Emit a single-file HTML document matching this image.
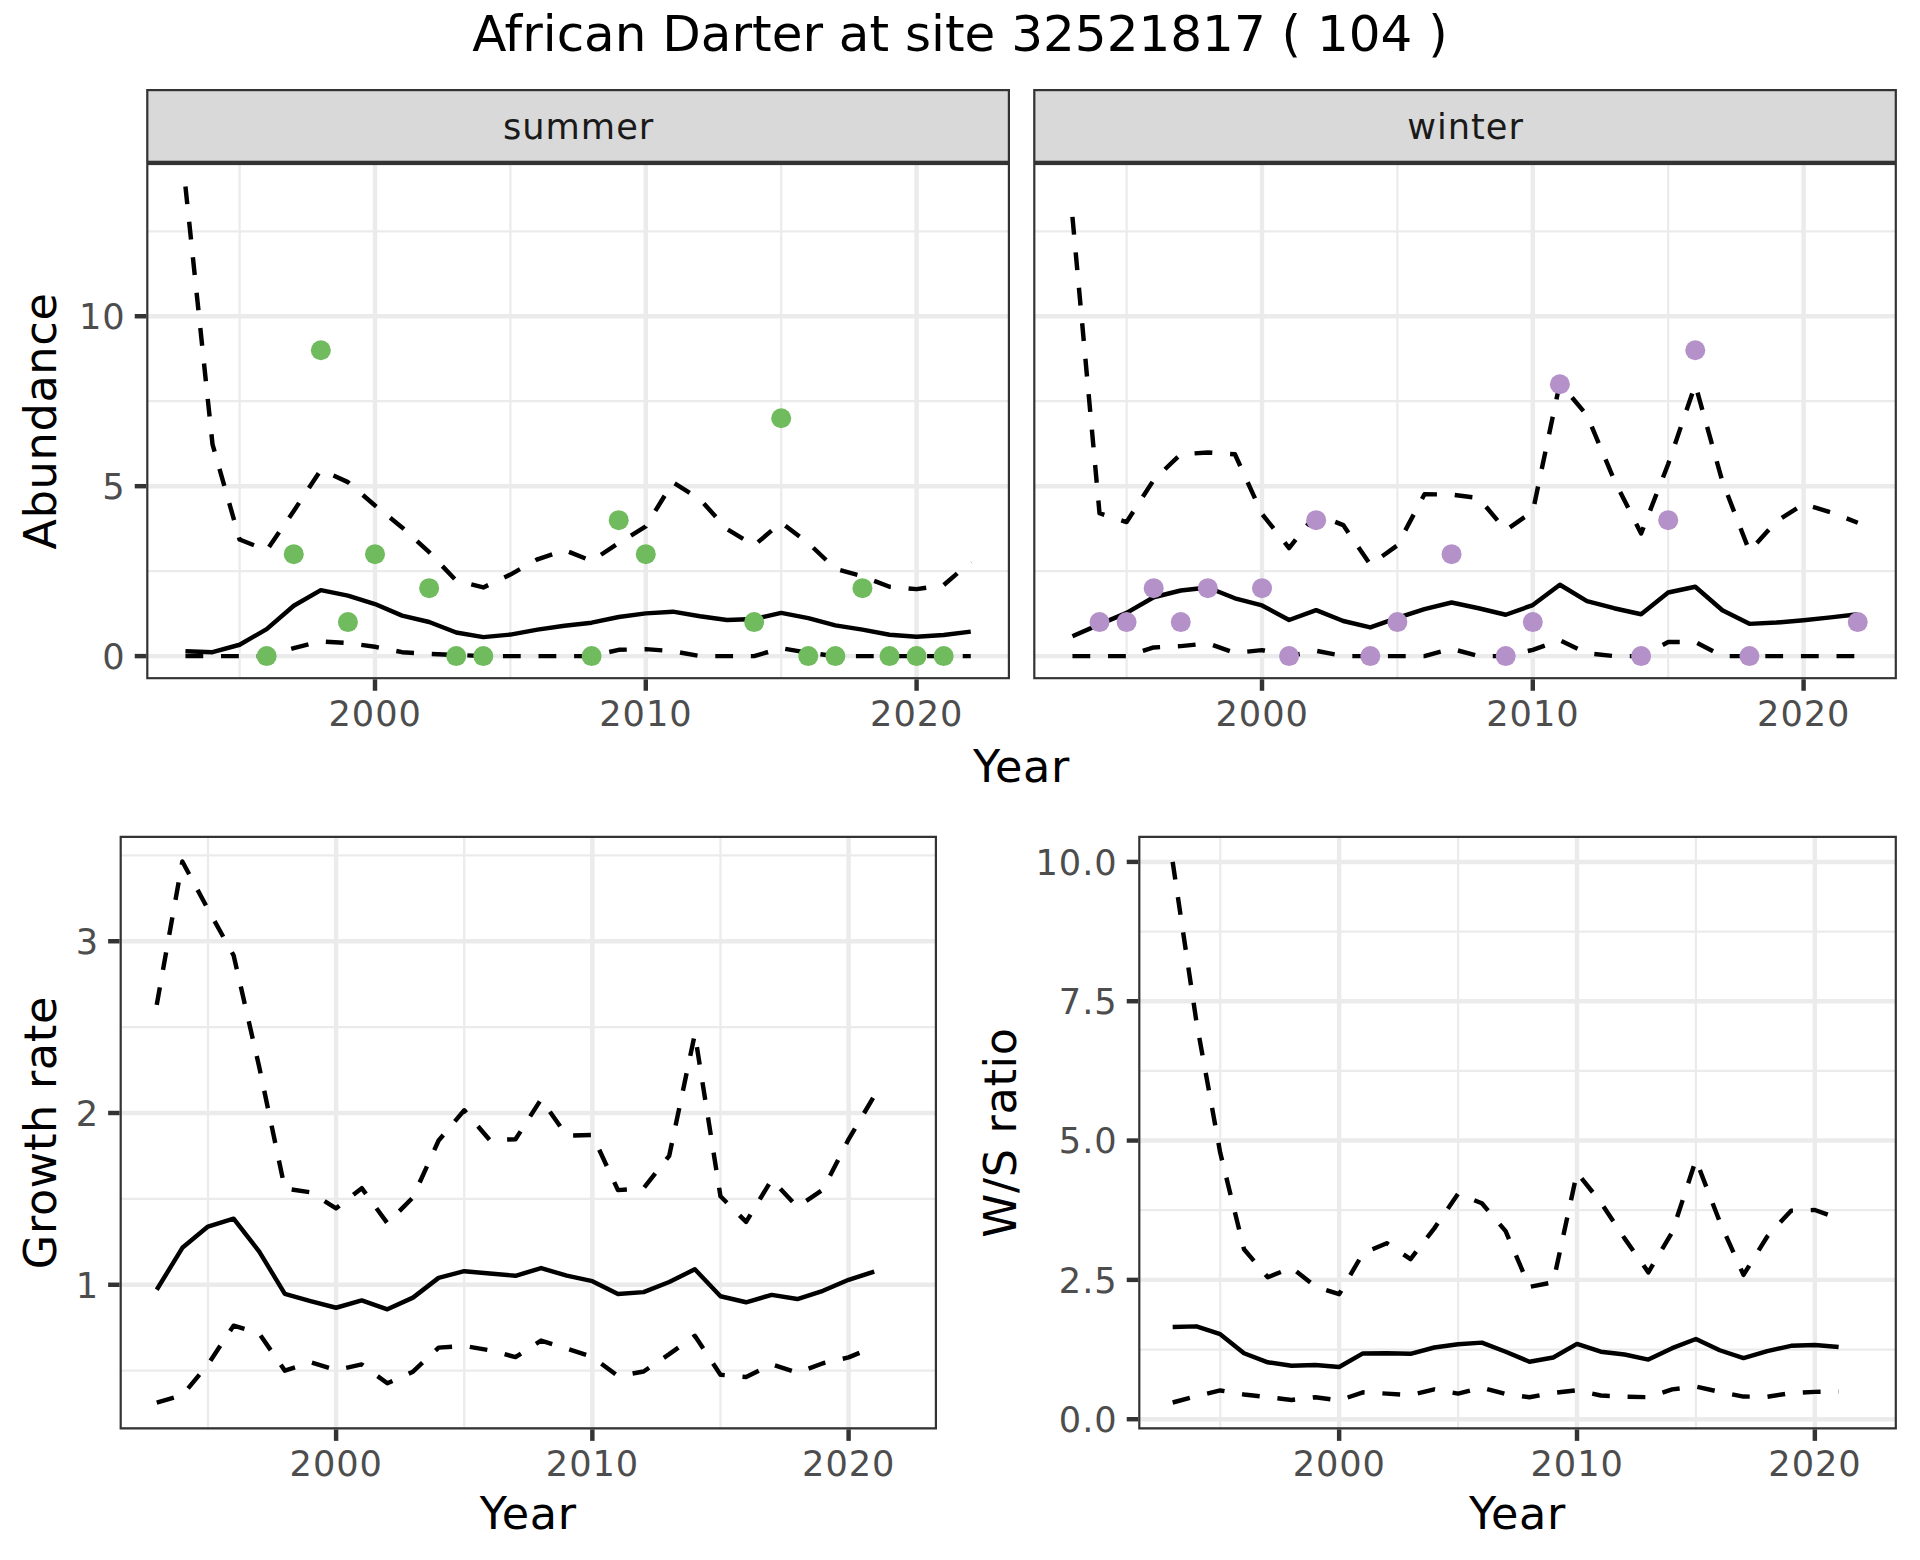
<!DOCTYPE html>
<html lang="en"><head><meta charset="utf-8"><title>African Darter at site 32521817 ( 104 )</title>
<style>html,body{margin:0;padding:0;background:#fff}body{width:1920px;height:1560px;overflow:hidden}svg{display:block}
text{font-family:"DejaVu Sans","Liberation Sans",sans-serif}.ax{font-size:35.2px;letter-spacing:.93px;fill:#4D4D4D}.st{font-size:35.2px;letter-spacing:1.0px;fill:#1A1A1A}.ti{font-size:44.55px;letter-spacing:.68px;fill:#000}.mt{font-size:50px;fill:#000}
</style></head><body>
<svg width="1920" height="1560" viewBox="0 0 1920 1560">
<rect width="1920" height="1560" fill="#fff"/>
<text class="mt" text-anchor="middle" x="960" y="51">African Darter at site 32521817 ( 104 )</text>
<clipPath id="s8"><rect x="146.20" y="89.00" width="863.80" height="73.90"/></clipPath>
<rect x="146.20" y="89.00" width="863.80" height="73.90" fill="#D9D9D9" stroke="#333" stroke-width="4.40" clip-path="url(#s8)"/>
<text class="st" text-anchor="middle" x="578.60" y="139">summer</text>
<clipPath id="c11"><rect x="146.20" y="162.90" width="863.80" height="516.40"/></clipPath>
<g clip-path="url(#c11)">
<rect x="146.20" y="162.90" width="863.80" height="516.40" fill="#fff"/>
<g stroke="#EBEBEB" stroke-width="2.23">
<line x1="146.2" x2="1010.0" y1="571.14" y2="571.14"/>
<line x1="146.2" x2="1010.0" y1="401.21" y2="401.21"/>
<line x1="146.2" x2="1010.0" y1="231.29" y2="231.29"/>
<line y1="162.9" y2="679.3" x1="239.60" x2="239.60"/>
<line y1="162.9" y2="679.3" x1="510.40" x2="510.40"/>
<line y1="162.9" y2="679.3" x1="781.20" x2="781.20"/>
</g>
<g stroke="#EBEBEB" stroke-width="4.45">
<line x1="146.2" x2="1010.0" y1="656.10" y2="656.10"/>
<line x1="146.2" x2="1010.0" y1="486.18" y2="486.18"/>
<line x1="146.2" x2="1010.0" y1="316.25" y2="316.25"/>
<line y1="162.9" y2="679.3" x1="375.00" x2="375.00"/>
<line y1="162.9" y2="679.3" x1="645.80" x2="645.80"/>
<line y1="162.9" y2="679.3" x1="916.60" x2="916.60"/>
</g>
<polyline points="185.44,651.17 212.52,652.19 239.60,644.75 266.68,629.15 293.76,605.77 320.84,590.17 347.92,595.57 375.00,604.07 402.08,615.59 429.16,622.01 456.24,632.55 483.32,637.10 510.40,634.59 537.48,629.66 564.56,625.75 591.64,622.69 618.72,616.95 645.80,613.38 672.88,611.68 699.96,616.27 727.04,620.01 754.12,618.99 781.20,612.87 808.28,618.14 835.36,625.41 862.44,629.66 889.52,634.69 916.60,636.66 943.68,635.00 970.76,631.66" fill="none" stroke="#000" stroke-width="4.45" stroke-linejoin="round" stroke-linecap="butt"/>
<polyline points="185.44,656.10 212.52,656.10 239.60,656.10 266.68,656.10 293.76,648.15 320.84,641.35 347.92,643.05 375.00,646.79 402.08,652.19 429.16,653.89 456.24,654.91 483.32,656.10 510.40,656.10 537.48,656.10 564.56,656.10 591.64,656.10 618.72,649.81 645.80,649.13 672.88,651.17 699.96,656.10 727.04,656.10 754.12,656.10 781.20,648.15 808.28,652.87 835.36,656.10 862.44,656.10 889.52,656.10 916.60,656.10 943.68,656.10 970.76,656.10" fill="none" stroke="#000" stroke-width="4.45" stroke-linejoin="round" stroke-linecap="butt" stroke-dasharray="17.8 17.8"/>
<polyline points="185.44,186.43 212.52,444.41 239.60,539.53 266.68,550.41 293.76,510.98 320.84,469.86 347.92,482.10 375.00,505.55 402.08,527.43 429.16,552.21 456.24,580.65 483.32,587.45 510.40,574.57 537.48,559.31 564.56,550.17 591.64,560.94 618.72,543.03 645.80,526.41 672.88,482.37 699.96,499.29 727.04,529.13 754.12,545.41 781.20,522.54 808.28,543.03 835.36,568.79 862.44,576.27 889.52,586.77 916.60,589.15 943.68,585.07 970.76,561.69" fill="none" stroke="#000" stroke-width="4.45" stroke-linejoin="round" stroke-linecap="butt" stroke-dasharray="17.8 17.8"/>
<g fill="#70BB5E">
<circle cx="266.68" cy="656.10" r="10"/>
<circle cx="293.76" cy="554.14" r="10"/>
<circle cx="320.84" cy="350.24" r="10"/>
<circle cx="347.92" cy="622.12" r="10"/>
<circle cx="375.00" cy="554.14" r="10"/>
<circle cx="429.16" cy="588.13" r="10"/>
<circle cx="456.24" cy="656.10" r="10"/>
<circle cx="483.32" cy="656.10" r="10"/>
<circle cx="591.64" cy="656.10" r="10"/>
<circle cx="618.72" cy="520.16" r="10"/>
<circle cx="645.80" cy="554.14" r="10"/>
<circle cx="754.12" cy="622.12" r="10"/>
<circle cx="781.20" cy="418.21" r="10"/>
<circle cx="808.28" cy="656.10" r="10"/>
<circle cx="835.36" cy="656.10" r="10"/>
<circle cx="862.44" cy="588.13" r="10"/>
<circle cx="889.52" cy="656.10" r="10"/>
<circle cx="916.60" cy="656.10" r="10"/>
<circle cx="943.68" cy="656.10" r="10"/>
</g>
<rect x="146.20" y="162.90" width="863.80" height="516.40" fill="none" stroke="#333" stroke-width="4.40"/>
</g>
<g stroke="#333" stroke-width="4.45">
<line x1="375.00" x2="375.00" y1="679.30" y2="690.76"/>
<line x1="645.80" x2="645.80" y1="679.30" y2="690.76"/>
<line x1="916.60" x2="916.60" y1="679.30" y2="690.76"/>
</g>
<g class="ax" text-anchor="middle">
<text x="375.15" y="725.60">2000</text>
<text x="645.95" y="725.60">2010</text>
<text x="916.75" y="725.60">2020</text>
</g>
<clipPath id="s66"><rect x="1033.20" y="89.00" width="863.70" height="73.90"/></clipPath>
<rect x="1033.20" y="89.00" width="863.70" height="73.90" fill="#D9D9D9" stroke="#333" stroke-width="4.40" clip-path="url(#s66)"/>
<text class="st" text-anchor="middle" x="1465.55" y="139">winter</text>
<clipPath id="c69"><rect x="1033.20" y="162.90" width="863.70" height="516.40"/></clipPath>
<g clip-path="url(#c69)">
<rect x="1033.20" y="162.90" width="863.70" height="516.40" fill="#fff"/>
<g stroke="#EBEBEB" stroke-width="2.23">
<line x1="1033.2" x2="1896.9" y1="571.14" y2="571.14"/>
<line x1="1033.2" x2="1896.9" y1="401.21" y2="401.21"/>
<line x1="1033.2" x2="1896.9" y1="231.29" y2="231.29"/>
<line y1="162.9" y2="679.3" x1="1126.60" x2="1126.60"/>
<line y1="162.9" y2="679.3" x1="1397.40" x2="1397.40"/>
<line y1="162.9" y2="679.3" x1="1668.20" x2="1668.20"/>
</g>
<g stroke="#EBEBEB" stroke-width="4.45">
<line x1="1033.2" x2="1896.9" y1="656.10" y2="656.10"/>
<line x1="1033.2" x2="1896.9" y1="486.18" y2="486.18"/>
<line x1="1033.2" x2="1896.9" y1="316.25" y2="316.25"/>
<line y1="162.9" y2="679.3" x1="1262.00" x2="1262.00"/>
<line y1="162.9" y2="679.3" x1="1532.80" x2="1532.80"/>
<line y1="162.9" y2="679.3" x1="1803.60" x2="1803.60"/>
</g>
<polyline points="1072.44,636.25 1099.52,624.39 1126.60,612.87 1153.68,597.27 1180.76,590.51 1207.84,587.45 1234.92,598.29 1262.00,605.43 1289.08,620.01 1316.16,610.15 1343.24,621.03 1370.32,627.45 1397.40,617.97 1424.48,609.13 1451.56,602.51 1478.64,608.22 1505.72,614.74 1532.80,605.09 1559.88,584.73 1586.96,601.18 1614.04,608.22 1641.12,614.23 1668.20,592.55 1695.28,586.77 1722.36,610.29 1749.44,623.85 1776.52,622.52 1803.60,620.21 1830.68,617.36 1857.76,614.23" fill="none" stroke="#000" stroke-width="4.45" stroke-linejoin="round" stroke-linecap="butt"/>
<polyline points="1072.44,656.10 1099.52,656.10 1126.60,656.10 1153.68,647.47 1180.76,646.11 1207.84,643.39 1234.92,652.87 1262.00,650.15 1289.08,656.10 1316.16,650.83 1343.24,656.10 1370.32,656.10 1397.40,656.10 1424.48,656.10 1451.56,648.79 1478.64,656.10 1505.72,656.10 1532.80,649.81 1559.88,640.33 1586.96,653.21 1614.04,656.10 1641.12,656.10 1668.20,642.03 1695.28,642.03 1722.36,656.10 1749.44,656.10 1776.52,656.10 1803.60,656.10 1830.68,656.10 1857.76,656.10" fill="none" stroke="#000" stroke-width="4.45" stroke-linejoin="round" stroke-linecap="butt" stroke-dasharray="17.8 17.8"/>
<polyline points="1072.44,216.91 1099.52,513.19 1126.60,522.03 1153.68,479.99 1180.76,454.23 1207.84,452.53 1234.92,454.23 1262.00,513.87 1289.08,548.03 1316.16,514.04 1343.24,525.09 1370.32,564.68 1397.40,545.31 1424.48,494.23 1451.56,494.57 1478.64,497.97 1505.72,530.15 1532.80,511.53 1559.88,383.03 1586.96,415.25 1614.04,479.65 1641.12,533.55 1668.20,464.05 1695.28,384.56 1722.36,481.35 1749.44,551.19 1776.52,521.35 1803.60,504.05 1830.68,512.21 1857.76,522.71" fill="none" stroke="#000" stroke-width="4.45" stroke-linejoin="round" stroke-linecap="butt" stroke-dasharray="17.8 17.8"/>
<g fill="#B491C8">
<circle cx="1099.52" cy="622.12" r="10"/>
<circle cx="1126.60" cy="622.12" r="10"/>
<circle cx="1153.68" cy="588.13" r="10"/>
<circle cx="1180.76" cy="622.12" r="10"/>
<circle cx="1207.84" cy="588.13" r="10"/>
<circle cx="1262.00" cy="588.13" r="10"/>
<circle cx="1289.08" cy="656.10" r="10"/>
<circle cx="1316.16" cy="520.16" r="10"/>
<circle cx="1370.32" cy="656.10" r="10"/>
<circle cx="1397.40" cy="622.12" r="10"/>
<circle cx="1451.56" cy="554.14" r="10"/>
<circle cx="1505.72" cy="656.10" r="10"/>
<circle cx="1532.80" cy="622.12" r="10"/>
<circle cx="1559.88" cy="384.22" r="10"/>
<circle cx="1641.12" cy="656.10" r="10"/>
<circle cx="1668.20" cy="520.16" r="10"/>
<circle cx="1695.28" cy="350.24" r="10"/>
<circle cx="1749.44" cy="656.10" r="10"/>
<circle cx="1857.76" cy="622.12" r="10"/>
</g>
<rect x="1033.20" y="162.90" width="863.70" height="516.40" fill="none" stroke="#333" stroke-width="4.40"/>
</g>
<g stroke="#333" stroke-width="4.45">
<line x1="1262.00" x2="1262.00" y1="679.30" y2="690.76"/>
<line x1="1532.80" x2="1532.80" y1="679.30" y2="690.76"/>
<line x1="1803.60" x2="1803.60" y1="679.30" y2="690.76"/>
</g>
<g class="ax" text-anchor="middle">
<text x="1262.15" y="725.60">2000</text>
<text x="1532.95" y="725.60">2010</text>
<text x="1803.75" y="725.60">2020</text>
</g>
<g stroke="#333" stroke-width="4.45">
<line y1="656.10" y2="656.10" x1="134.74" x2="146.20"/>
<line y1="486.18" y2="486.18" x1="134.74" x2="146.20"/>
<line y1="316.25" y2="316.25" x1="134.74" x2="146.20"/>
</g>
<g class="ax" text-anchor="end">
<text x="125.60" y="669.00">0</text>
<text x="125.60" y="499.07">5</text>
<text x="125.60" y="329.15">10</text>
</g>
<text class="ti" text-anchor="middle" transform="translate(56.4 421) rotate(-90)">Abundance</text>
<text class="ti" text-anchor="middle" x="1021.5" y="781.7">Year</text>
<clipPath id="c136"><rect x="119.60" y="835.80" width="817.40" height="593.60"/></clipPath>
<g clip-path="url(#c136)">
<rect x="119.60" y="835.80" width="817.40" height="593.60" fill="#fff"/>
<g stroke="#EBEBEB" stroke-width="2.23">
<line x1="119.6" x2="937.0" y1="1370.62" y2="1370.62"/>
<line x1="119.6" x2="937.0" y1="1198.88" y2="1198.88"/>
<line x1="119.6" x2="937.0" y1="1027.12" y2="1027.12"/>
<line x1="119.6" x2="937.0" y1="855.38" y2="855.38"/>
<line y1="835.8" y2="1429.4" x1="207.98" x2="207.98"/>
<line y1="835.8" y2="1429.4" x1="464.23" x2="464.23"/>
<line y1="835.8" y2="1429.4" x1="720.48" x2="720.48"/>
</g>
<g stroke="#EBEBEB" stroke-width="4.45">
<line x1="119.6" x2="937.0" y1="1284.75" y2="1284.75"/>
<line x1="119.6" x2="937.0" y1="1113.00" y2="1113.00"/>
<line x1="119.6" x2="937.0" y1="941.25" y2="941.25"/>
<line y1="835.8" y2="1429.4" x1="336.10" x2="336.10"/>
<line y1="835.8" y2="1429.4" x1="592.35" x2="592.35"/>
<line y1="835.8" y2="1429.4" x1="848.60" x2="848.60"/>
</g>
<polyline points="156.73,1289.73 182.35,1247.82 207.98,1226.53 233.60,1218.63 259.23,1251.60 284.85,1293.85 310.48,1301.07 336.10,1307.76 361.73,1300.38 387.35,1309.31 412.98,1297.63 438.60,1277.88 464.23,1271.18 489.85,1273.41 515.48,1275.82 541.10,1268.09 566.73,1275.65 592.35,1281.14 617.98,1294.02 643.60,1292.14 669.23,1282.00 694.85,1269.29 720.48,1296.26 746.10,1302.27 771.73,1294.88 797.35,1299.01 822.98,1290.76 848.60,1279.77 874.23,1271.53" fill="none" stroke="#000" stroke-width="4.45" stroke-linejoin="round" stroke-linecap="butt"/>
<polyline points="156.73,1402.62 182.35,1395.19 207.98,1364.44 233.60,1325.63 259.23,1333.53 284.85,1370.62 310.48,1362.21 336.10,1370.11 361.73,1364.44 387.35,1383.33 412.98,1371.66 438.60,1347.61 464.23,1345.89 489.85,1350.36 515.48,1357.06 541.10,1340.57 566.73,1348.64 592.35,1356.88 617.98,1376.12 643.60,1371.48 669.23,1354.14 694.85,1335.76 720.48,1374.75 746.10,1376.98 771.73,1364.27 797.35,1372.69 822.98,1363.24 848.60,1357.40 874.23,1346.75" fill="none" stroke="#000" stroke-width="4.45" stroke-linejoin="round" stroke-linecap="butt" stroke-dasharray="17.8 17.8"/>
<polyline points="156.73,1004.97 182.35,861.47 207.98,909.30 233.60,955.33 259.23,1066.97 284.85,1188.57 310.48,1192.35 336.10,1208.32 361.73,1188.14 387.35,1223.26 412.98,1197.33 438.60,1140.48 464.23,1110.25 489.85,1140.14 515.48,1139.28 541.10,1099.26 566.73,1135.67 592.35,1134.98 617.98,1190.12 643.60,1188.23 669.23,1155.77 694.85,1033.99 720.48,1196.30 746.10,1221.89 771.73,1179.64 797.35,1206.78 822.98,1189.60 848.60,1139.28 874.23,1096.00" fill="none" stroke="#000" stroke-width="4.45" stroke-linejoin="round" stroke-linecap="butt" stroke-dasharray="17.8 17.8"/>
<rect x="119.60" y="835.80" width="817.40" height="593.60" fill="none" stroke="#333" stroke-width="4.40"/>
</g>
<g stroke="#333" stroke-width="4.45">
<line x1="336.10" x2="336.10" y1="1429.40" y2="1440.86"/>
<line x1="592.35" x2="592.35" y1="1429.40" y2="1440.86"/>
<line x1="848.60" x2="848.60" y1="1429.40" y2="1440.86"/>
</g>
<g class="ax" text-anchor="middle">
<text x="336.25" y="1476.00">2000</text>
<text x="592.50" y="1476.00">2010</text>
<text x="848.75" y="1476.00">2020</text>
</g>
<g stroke="#333" stroke-width="4.45">
<line y1="1284.75" y2="1284.75" x1="108.14" x2="119.60"/>
<line y1="1113.00" y2="1113.00" x1="108.14" x2="119.60"/>
<line y1="941.25" y2="941.25" x1="108.14" x2="119.60"/>
</g>
<g class="ax" text-anchor="end">
<text x="99.00" y="1297.65">1</text>
<text x="99.00" y="1125.90">2</text>
<text x="99.00" y="954.15">3</text>
</g>
<text class="ti" text-anchor="middle" transform="translate(56.4 1132.6) rotate(-90)">Growth rate</text>
<text class="ti" text-anchor="middle" x="528.3" y="1528.8">Year</text>
<clipPath id="c183"><rect x="1138.20" y="835.80" width="758.70" height="593.60"/></clipPath>
<g clip-path="url(#c183)">
<rect x="1138.20" y="835.80" width="758.70" height="593.60" fill="#fff"/>
<g stroke="#EBEBEB" stroke-width="2.23">
<line x1="1138.2" x2="1896.9" y1="1349.54" y2="1349.54"/>
<line x1="1138.2" x2="1896.9" y1="1210.21" y2="1210.21"/>
<line x1="1138.2" x2="1896.9" y1="1070.89" y2="1070.89"/>
<line x1="1138.2" x2="1896.9" y1="931.56" y2="931.56"/>
<line y1="835.8" y2="1429.4" x1="1220.23" x2="1220.23"/>
<line y1="835.8" y2="1429.4" x1="1458.08" x2="1458.08"/>
<line y1="835.8" y2="1429.4" x1="1695.93" x2="1695.93"/>
</g>
<g stroke="#EBEBEB" stroke-width="4.45">
<line x1="1138.2" x2="1896.9" y1="1419.20" y2="1419.20"/>
<line x1="1138.2" x2="1896.9" y1="1279.88" y2="1279.88"/>
<line x1="1138.2" x2="1896.9" y1="1140.55" y2="1140.55"/>
<line x1="1138.2" x2="1896.9" y1="1001.23" y2="1001.23"/>
<line x1="1138.2" x2="1896.9" y1="861.90" y2="861.90"/>
<line y1="835.8" y2="1429.4" x1="1339.15" x2="1339.15"/>
<line y1="835.8" y2="1429.4" x1="1577.00" x2="1577.00"/>
<line y1="835.8" y2="1429.4" x1="1814.85" x2="1814.85"/>
</g>
<polyline points="1172.66,1326.97 1196.44,1326.35 1220.23,1334.16 1244.01,1353.22 1267.80,1362.30 1291.58,1365.70 1315.37,1365.03 1339.15,1366.95 1362.94,1353.44 1386.72,1353.22 1410.51,1353.83 1434.29,1347.48 1458.08,1344.30 1481.86,1342.63 1505.64,1351.71 1529.43,1361.69 1553.22,1357.45 1577.00,1343.91 1600.79,1351.71 1624.57,1354.50 1648.36,1359.57 1672.14,1348.14 1695.93,1339.03 1719.71,1350.26 1743.50,1358.06 1767.28,1351.10 1791.07,1345.80 1814.85,1344.97 1838.64,1347.09" fill="none" stroke="#000" stroke-width="4.45" stroke-linejoin="round" stroke-linecap="butt"/>
<polyline points="1172.66,1402.48 1196.44,1396.13 1220.23,1390.44 1244.01,1394.46 1267.80,1397.19 1291.58,1399.97 1315.37,1397.19 1339.15,1400.36 1362.94,1392.34 1386.72,1393.62 1410.51,1395.07 1434.29,1389.38 1458.08,1393.62 1481.86,1387.68 1505.64,1394.01 1529.43,1397.19 1553.22,1393.01 1577.00,1390.22 1600.79,1395.51 1624.57,1396.80 1648.36,1397.19 1672.14,1389.38 1695.93,1386.60 1719.71,1391.89 1743.50,1396.57 1767.28,1396.80 1791.07,1393.01 1814.85,1391.89 1838.64,1391.50" fill="none" stroke="#000" stroke-width="4.45" stroke-linejoin="round" stroke-linecap="butt" stroke-dasharray="17.8 17.8"/>
<polyline points="1172.66,861.90 1196.44,1021.85 1220.23,1152.81 1244.01,1249.22 1267.80,1277.26 1291.58,1267.61 1315.37,1286.56 1339.15,1294.20 1362.94,1253.35 1386.72,1243.20 1410.51,1259.09 1434.29,1228.38 1458.08,1193.72 1481.86,1203.25 1505.64,1231.17 1529.43,1286.84 1553.22,1282.27 1577.00,1172.59 1600.79,1202.35 1624.57,1238.36 1648.36,1272.35 1672.14,1232.23 1695.93,1159.78 1719.71,1221.64 1743.50,1274.86 1767.28,1236.46 1791.07,1210.66 1814.85,1209.99 1838.64,1218.57" fill="none" stroke="#000" stroke-width="4.45" stroke-linejoin="round" stroke-linecap="butt" stroke-dasharray="17.8 17.8"/>
<rect x="1138.20" y="835.80" width="758.70" height="593.60" fill="none" stroke="#333" stroke-width="4.40"/>
</g>
<g stroke="#333" stroke-width="4.45">
<line x1="1339.15" x2="1339.15" y1="1429.40" y2="1440.86"/>
<line x1="1577.00" x2="1577.00" y1="1429.40" y2="1440.86"/>
<line x1="1814.85" x2="1814.85" y1="1429.40" y2="1440.86"/>
</g>
<g class="ax" text-anchor="middle">
<text x="1339.30" y="1476.00">2000</text>
<text x="1577.15" y="1476.00">2010</text>
<text x="1815.00" y="1476.00">2020</text>
</g>
<g stroke="#333" stroke-width="4.45">
<line y1="1419.20" y2="1419.20" x1="1126.74" x2="1138.20"/>
<line y1="1279.88" y2="1279.88" x1="1126.74" x2="1138.20"/>
<line y1="1140.55" y2="1140.55" x1="1126.74" x2="1138.20"/>
<line y1="1001.23" y2="1001.23" x1="1126.74" x2="1138.20"/>
<line y1="861.90" y2="861.90" x1="1126.74" x2="1138.20"/>
</g>
<g class="ax" text-anchor="end">
<text x="1117.60" y="1432.10">0.0</text>
<text x="1117.60" y="1292.78">2.5</text>
<text x="1117.60" y="1153.45">5.0</text>
<text x="1117.60" y="1014.13">7.5</text>
<text x="1117.60" y="874.80">10.0</text>
</g>
<text class="ti" text-anchor="middle" transform="translate(1016.4 1132.6) rotate(-90)">W/S ratio</text>
<text class="ti" text-anchor="middle" x="1517.5" y="1528.8">Year</text>
</svg></body></html>
